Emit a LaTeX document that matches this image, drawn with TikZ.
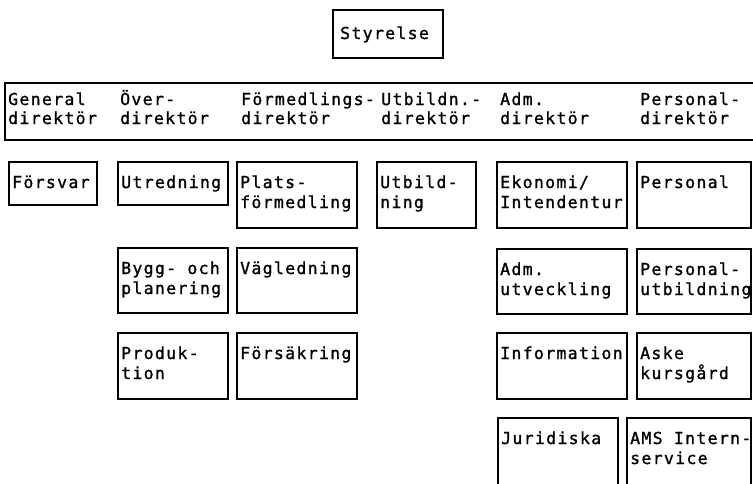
\documentclass[tikz,border=0pt]{standalone}
\usepackage{fontspec}
\newfontfamily\tw[LetterSpace=8,FakeBold=1.2]{DejaVu Sans Mono}
\newcommand\orgbox[5]{\node[boxline, anchor=north west, minimum width={#4-#2}, minimum height={#5-#3}, inner sep=0pt, outer sep=0pt] (#1) at (#2,#3) {};}
\newcommand\onetext[2]{\node[lbl] (#1-a) at ([shift={(3pt,-26pt)}]#1.north west) {#2};}
\newcommand\twotext[3]{\node[lbl] (#1-a) at ([shift={(3pt,-26pt)}]#1.north west) {#2};
  \node[lbl] (#1-b) at ([shift={(3pt,-46pt)}]#1.north west) {#3};}
\newcommand\dirlabel[4]{\node[lbl] (#1-a) at (#2,105) {#3};
  \node[lbl] (#1-b) at (#2,124) {#4};}
\begin{document}
\begin{tikzpicture}[x=1pt,y=-1pt,
  boxline/.style={draw=black, line width=1.4pt},
  lbl/.style={font=\tw\fontsize{16.5}{20}\selectfont, inner sep=0pt, anchor=base west, text=black}]
\useasboundingbox[fill=white] (0,0) rectangle (753,483);
\clip (0,0) rectangle (753,483);

% Board
\orgbox{sty}{333}{10}{443}{58}
\node[lbl] (sty-a) at ([shift={(7pt,-29pt)}]sty.north west) {Styrelse};

% Directors bracket
\coordinate (brTR) at (760,83);
\coordinate (brTL) at (5,83);
\coordinate (brBL) at (5,140);
\coordinate (brBR) at (760,140);
\draw[boxline] (brTR) -- (brTL) -- (brBL) -- (brBR);
\dirlabel{gd}{8}{General}{direktör}
\dirlabel{od}{120}{Över-}{direktör}
\dirlabel{fd}{241}{Förmedlings-}{direktör}
\dirlabel{ud}{381}{Utbildn.-}{direktör}
\dirlabel{ad}{500}{Adm.}{direktör}
\dirlabel{pd}{640}{Personal-}{direktör}

% Row 1
\orgbox{fors}{9}{162}{97}{205}\onetext{fors}{Försvar}
\orgbox{utr}{118}{162}{228}{205}\onetext{utr}{Utredning}
\orgbox{plats}{237}{162}{357}{228}\twotext{plats}{Plats-}{förmedling}
\orgbox{utb}{377}{162}{476}{228}\twotext{utb}{Utbild-}{ning}
\orgbox{eko}{497}{162}{627}{228}\twotext{eko}{Ekonomi/}{Intendentur}
\orgbox{pers}{637}{162}{751}{228}\onetext{pers}{Personal}

% Row 2
\orgbox{bygg}{118}{248}{228}{313}\twotext{bygg}{Bygg- och}{planering}
\orgbox{vag}{237}{248}{357}{313}\onetext{vag}{Vägledning}
\orgbox{admu}{497}{249}{627}{314}\twotext{admu}{Adm.}{utveckling}
\orgbox{persu}{637}{249}{751}{314}\twotext{persu}{Personal-}{utbildning}

% Row 3
\orgbox{prod}{118}{333}{228}{399}\twotext{prod}{Produk-}{tion}
\orgbox{fsak}{237}{333}{357}{399}\onetext{fsak}{Försäkring}
\orgbox{info}{497}{333}{627}{399}\onetext{info}{Information}
\orgbox{aske}{637}{333}{751}{399}\twotext{aske}{Aske}{kursgård}

% Row 4 (cut off at the bottom)
\orgbox{jur}{498}{418}{618}{500}\onetext{jur}{Juridiska}
\orgbox{ams}{627}{418}{751}{500}\twotext{ams}{AMS Intern-}{service}
\end{tikzpicture}
\end{document}
